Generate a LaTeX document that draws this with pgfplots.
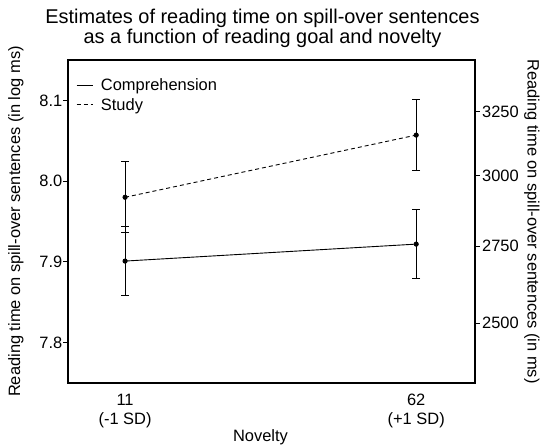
\documentclass[border=0pt]{standalone}
\usepackage{fontspec}
\setmainfont{Liberation Sans}
\usepackage{pgfplots}
\pgfplotsset{compat=1.18}

\begin{document}
\begin{tikzpicture}
\pgfplotsset{
  every axis/.append style={
    scale only axis, width=407bp, height=323bp,
    xmin=1, xmax=72.3, ymin=7.75, ymax=8.15,
    /pgf/number format/assume math mode=true,
    tick label style={font=\fontsize{16.5}{19}\selectfont},
    label style={font=\fontsize{16.5}{19}\selectfont},
    tick align=outside, major tick length=4.5bp,
    axis line style={line width=1.2bp},
    every tick/.style={line width=1bp, black},
  }
}
\begin{axis}[
  name=main,
  title={Estimates of reading time on spill-over sentences\\as a function of reading goal and novelty},
  title style={font=\fontsize{20}{19.5}\selectfont, align=center, yshift=3bp, xshift=-9bp},
  xtick={11,62},
  xticklabels={11\\(-1 SD),62\\(+1 SD)},
  x tick label style={align=center, yshift=-3bp},
  xtick style={draw=none},
  xlabel={Novelty},
  xlabel style={at={(axis description cs:0.473,-0.168)}, anchor=center},
  ytick={7.8,7.9,8.0,8.1},
  yticklabel style={inner xsep=1bp, /pgf/number format/.cd,fixed,fixed zerofill,precision=1},
  ytick pos=left,
  ylabel={Reading time on spill-over sentences (in log ms)},
  ylabel style={at={(axis description cs:-0.128,0.5)}, anchor=center},
  legend style={at={(0.012,0.955)}, anchor=north west, draw=none, fill=none,
    font=\fontsize{16.5}{19}\selectfont, row sep=2bp,
    /tikz/every odd column/.style={column sep=6bp}},
  legend cell align=left,
  legend image code/.code={\draw[#1] (0bp,0bp) -- (16bp,0bp);},
  every axis plot/.append style={black, line width=0.9bp},
  error bars/error bar style={line width=0.9bp, solid},
  error bars/error mark options={rotate=90, mark size=4bp, line width=0.9bp, solid},
]
\addplot[solid, mark=*, mark size=2.1bp,
  error bars/.cd, y dir=both, y explicit]
  coordinates {(11,7.901) +- (0,0.043) (62,7.922) +- (0,0.043)};
\addlegendentry{Comprehension}
\addplot[dash pattern=on 4bp off 3bp, mark=*, mark size=2.1bp, mark options={solid},
  error bars/.cd, y dir=both, y explicit]
  coordinates {(11,7.980) +- (0,0.044) (62,8.057) +- (0,0.044)};
\addlegendentry{Study}
\end{axis}
\begin{axis}[
  axis x line=none,
  axis y line*=right,
  ytick={7.82405,7.91936,8.00637,8.08641},
  yticklabels={2500,2750,3000,3250},
  yticklabel style={inner xsep=2.5bp},
  ylabel={Reading time on spill-over sentences (in ms)},
  ylabel style={at={(axis description cs:1.140,0.5)}, anchor=center, rotate=180},
]
\addplot[draw=none] coordinates {(11,7.9)};
\end{axis}
\pgfresetboundingbox
\path ([shift={(-68bp,-64bp)}]main.south west) rectangle ([shift={(68bp,60bp)}]main.north east);
\end{tikzpicture}
\end{document}
